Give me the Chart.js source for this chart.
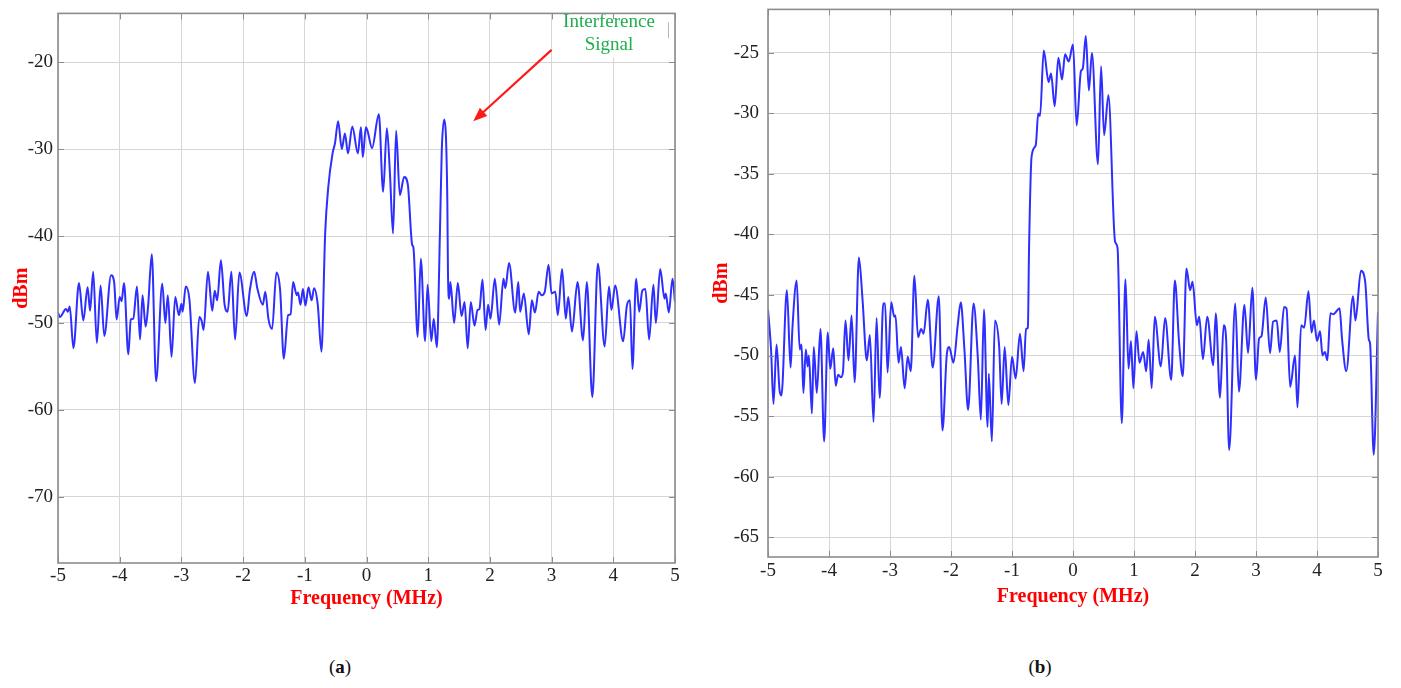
<!DOCTYPE html>
<html>
<head>
<meta charset="utf-8">
<script src="https://cdn.jsdelivr.net/npm/chart.js@4.4.1/dist/chart.umd.min.js"></script>
<style>
  body{margin:0;background:#fff;width:1401px;height:688px;position:relative;overflow:hidden;font-family:'Liberation Serif','DejaVu Serif',serif;}
  canvas{position:absolute;}
  #chartA{left:0;top:-3px;}
  #chartB{left:700px;top:-11px;}
  .cap{position:absolute;top:656px;font-size:19px;transform:translateX(-50%);color:#111;}
</style>
</head>
<body>
<canvas id="chartA" width="700" height="616"></canvas>
<canvas id="chartB" width="700" height="620"></canvas>
<div class="cap" style="left:340px">(<b>a</b>)</div>
<div class="cap" style="left:1040px">(<b>b</b>)</div>

<script>
/* =====================
   DADOS
   ===================== */
const xTicks  = [-5, -4, -3, -2, -1, 0, 1, 2, 3, 4, 5];
const yTicksA = [-70, -60, -50, -40, -30, -20];
const yTicksB = [-65, -60, -55, -50, -45, -40, -35, -30, -25];

// (a) espectro com interferencia
const freqA = [-5.00,-4.97,-4.87,-4.84,-4.81,-4.75,-4.66,-4.59,-4.52,-4.48,-4.43,-4.37,-4.31,-4.25,-4.14,-4.09,-4.05,-4.00,-3.97,-3.93,
  -3.86,-3.82,-3.78,-3.72,-3.67,-3.63,-3.58,-3.54,-3.48,-3.41,-3.31,-3.26,-3.22,-3.16,-3.10,-3.04,-3.00,-2.98,-2.93,-2.87,
  -2.78,-2.71,-2.67,-2.64,-2.57,-2.50,-2.46,-2.42,-2.36,-2.30,-2.25,-2.19,-2.13,-2.06,-1.94,-1.89,-1.82,-1.77,-1.68,-1.64,
  -1.59,-1.53,-1.46,-1.40,-1.34,-1.27,-1.23,-1.19,-1.13,-1.11,-1.07,-1.03,-0.99,-0.94,-0.89,-0.85,-0.79,-0.73,-0.67,-0.62,
  -0.55,-0.51,-0.46,-0.40,-0.35,-0.30,-0.23,-0.14,-0.09,-0.06,-0.01,0.02,0.09,0.20,0.27,0.33,0.38,0.43,0.48,0.54,
  0.61,0.67,0.74,0.76,0.83,0.88,0.95,0.99,1.05,1.09,1.14,1.19,1.22,1.26,1.31,1.32,1.34,1.36,1.42,1.48,
  1.54,1.59,1.64,1.69,1.75,1.80,1.83,1.88,1.93,1.97,2.01,2.08,2.15,2.22,2.25,2.31,2.41,2.46,2.49,2.55,
  2.63,2.68,2.73,2.79,2.84,2.89,2.95,3.00,3.06,3.10,3.17,3.23,3.27,3.33,3.42,3.51,3.57,3.66,3.75,3.86,
  3.93,3.97,4.03,4.16,4.22,4.27,4.31,4.37,4.42,4.47,4.52,4.58,4.65,4.69,4.76,4.83,4.85,4.90,4.96,5.00];
const dbmA = [-48.8,-49.3,-48.4,-48.7,-48.1,-52.9,-45.4,-49.7,-45.9,-48.6,-44.1,-52.3,-45.7,-51.5,-44.5,-45.3,-49.6,-47.0,-47.5,-45.4,
  -53.6,-49.6,-49.5,-45.8,-51.9,-46.8,-50.4,-48.1,-42.1,-56.7,-45.5,-50.0,-46.8,-53.9,-47.0,-49.1,-47.8,-48.7,-45.8,-47.3,
  -56.9,-49.3,-49.8,-50.8,-44.1,-48.6,-46.3,-47.4,-42.8,-47.9,-48.7,-44.1,-51.9,-44.2,-49.2,-46.2,-44.1,-46.0,-47.9,-46.4,
  -49.5,-50.7,-44.2,-46.2,-54.1,-49.1,-49.0,-45.3,-46.8,-46.5,-47.9,-46.1,-48.0,-45.9,-47.4,-46.0,-47.9,-53.3,-39.7,-34.4,
  -30.5,-29.3,-26.8,-30.0,-28.2,-30.5,-27.4,-30.5,-27.5,-30.9,-27.5,-28.0,-29.9,-26.0,-34.9,-27.6,-32.8,-39.7,-27.9,-35.3,
  -33.2,-34.1,-41.0,-41.3,-51.6,-42.6,-52.1,-45.6,-52.1,-49.5,-52.8,-39.7,-30.1,-26.6,-35.9,-44.0,-47.2,-45.3,-50.0,-45.4,
  -49.2,-47.6,-52.9,-47.6,-50.3,-48.5,-48.4,-45.0,-50.8,-47.9,-49.5,-44.9,-50.2,-44.9,-46.0,-43.1,-48.8,-45.3,-48.7,-46.6,
  -51.3,-47.4,-48.8,-46.4,-46.8,-46.4,-43.3,-46.6,-46.4,-49.1,-43.8,-49.5,-47.0,-51.0,-45.3,-52.0,-45.3,-58.5,-43.2,-52.7,
  -45.8,-48.5,-45.7,-52.1,-48.0,-47.4,-55.3,-44.9,-48.7,-46.3,-46.1,-51.9,-45.6,-50.0,-43.8,-47.2,-46.6,-48.8,-44.9,-47.6];

// (b) espectro sem interferencia
const freqB = [-5.00,-4.95,-4.91,-4.86,-4.81,-4.78,-4.69,-4.63,-4.60,-4.53,-4.48,-4.45,-4.42,-4.38,-4.35,-4.33,-4.28,-4.25,-4.20,-4.14,
  -4.08,-4.02,-3.98,-3.93,-3.89,-3.85,-3.80,-3.77,-3.73,-3.68,-3.63,-3.58,-3.51,-3.45,-3.38,-3.33,-3.27,-3.22,-3.17,-3.11,
  -3.08,-3.04,-2.98,-2.93,-2.91,-2.86,-2.82,-2.76,-2.71,-2.66,-2.60,-2.54,-2.49,-2.45,-2.38,-2.30,-2.20,-2.14,-2.07,-2.03,
  -1.96,-1.89,-1.84,-1.78,-1.72,-1.63,-1.56,-1.51,-1.46,-1.40,-1.38,-1.33,-1.28,-1.21,-1.17,-1.12,-1.06,-1.00,-0.94,-0.87,
  -0.81,-0.77,-0.74,-0.72,-0.68,-0.61,-0.57,-0.54,-0.48,-0.40,-0.36,-0.30,-0.24,-0.18,-0.13,-0.07,0.00,0.06,0.13,0.16,
  0.21,0.26,0.31,0.41,0.46,0.51,0.58,0.69,0.73,0.80,0.86,0.91,0.95,0.99,1.04,1.09,1.15,1.20,1.24,1.29,
  1.34,1.44,1.51,1.61,1.67,1.74,1.80,1.86,1.92,1.96,2.03,2.07,2.13,2.20,2.30,2.34,2.41,2.47,2.51,2.56,
  2.66,2.72,2.81,2.87,2.94,3.00,3.05,3.09,3.16,3.23,3.28,3.34,3.39,3.46,3.50,3.56,3.64,3.68,3.74,3.79,
  3.86,3.91,3.95,4.00,4.05,4.09,4.13,4.17,4.22,4.27,4.31,4.37,4.41,4.48,4.59,4.63,4.72,4.79,4.85,4.87,
  4.93,5.00];
const dbmB = [-46.2,-49.5,-54.0,-49.1,-52.9,-53.3,-44.6,-51.0,-47.8,-43.8,-49.5,-49.1,-53.1,-49.5,-50.9,-50.0,-54.8,-49.3,-53.1,-47.8,
  -57.1,-48.1,-51.1,-49.4,-52.5,-51.6,-51.8,-51.3,-47.1,-50.4,-46.7,-52.2,-41.9,-45.4,-50.4,-48.3,-55.5,-46.9,-53.5,-45.7,
  -45.7,-51.4,-45.6,-46.8,-46.7,-50.6,-49.3,-52.7,-50.1,-51.3,-43.4,-48.5,-47.8,-48.2,-45.4,-51.0,-45.1,-56.2,-50.0,-49.3,
  -50.6,-47.5,-45.6,-49.5,-54.5,-45.7,-50.2,-55.3,-46.2,-55.9,-51.5,-57.1,-47.1,-49.3,-54.0,-49.3,-54.1,-50.1,-51.9,-48.2,
  -51.3,-47.8,-47.7,-41.0,-33.6,-32.6,-30.0,-30.2,-24.8,-27.4,-26.7,-29.4,-25.4,-27.2,-25.1,-25.7,-24.3,-31.0,-26.5,-26.3,
  -23.6,-28.1,-25.0,-34.2,-26.1,-31.8,-28.5,-40.6,-41.1,-55.6,-43.7,-51.1,-48.8,-52.7,-48.0,-50.6,-49.7,-51.3,-48.7,-52.7,
  -46.8,-50.9,-46.9,-52.0,-43.8,-49.0,-51.7,-42.8,-44.6,-43.9,-47.5,-46.8,-50.3,-46.8,-50.8,-46.5,-53.5,-47.5,-48.6,-57.8,
  -45.7,-53.0,-45.8,-49.8,-44.4,-52.0,-48.6,-48.4,-45.2,-49.8,-47.2,-47.1,-49.7,-46.0,-46.1,-52.6,-50.0,-54.3,-47.5,-47.7,
  -44.7,-48.1,-47.1,-48.8,-48.0,-50.0,-49.7,-50.4,-46.5,-46.6,-46.4,-46.1,-48.6,-51.3,-45.1,-47.1,-43.0,-43.9,-48.7,-49.0,
  -58.2,-46.4];

/* === ESTILO === */
const SERIF = "'Liberation Serif', 'DejaVu Serif', serif";
const LINE_BLUE = '#2e2eff';
const GRID_GRAY = '#d6d6d6';
const FRAME_GRAY = '#8c8c8c';
const TITLE_RED = '#ff0000';

/* === ANOTACAO "Interference Signal" (grafico a) === */
const noteText  = ['Interference', 'Signal'];
const noteTextY = [-15.4, -18.0];
const noteTextX = 3.93;
const arrowFrom = [3.0, -18.6];
const arrowTo   = [1.73, -26.8];

// caixa branca por tras do texto (tapa a grelha), desenhada antes da moldura
const noteBoxPlugin = {
  id: 'noteBox',
  afterDatasetsDraw(chart){
    const {ctx, chartArea: a, scales: {x, y}} = chart;
    const cx = x.getPixelForValue(noteTextX);
    ctx.save();
    ctx.fillStyle = '#fff';
    ctx.fillRect(cx - 55, a.top + 1, 113, y.getPixelForValue(noteTextY[1]) + 12 - a.top);
    ctx.strokeStyle = '#b5b5b5';
    ctx.lineWidth = 1;
    ctx.beginPath();
    ctx.moveTo(cx + 59.5, a.top + 9);
    ctx.lineTo(cx + 59.5, a.top + 25);
    ctx.stroke();
    ctx.restore();
  }
};

/* === MOLDURA + TICKS PARA DENTRO (estilo MATLAB) === */
const framePlugin = {
  id: 'frame',
  afterDraw(chart){
    const {ctx, chartArea: a, scales: {x, y}} = chart;
    const seg = (x1, y1, x2, y2) => { ctx.beginPath(); ctx.moveTo(x1, y1); ctx.lineTo(x2, y2); ctx.stroke(); };
    ctx.save();
    ctx.strokeStyle = FRAME_GRAY;
    ctx.lineWidth = 1;
    x.ticks.forEach(t => {
      const px = Math.round(x.getPixelForValue(t.value)) + 0.5;
      seg(px, a.top, px, a.top + 6);
      seg(px, a.bottom, px, a.bottom - 6);
    });
    y.ticks.forEach(t => {
      const py = Math.round(y.getPixelForValue(t.value)) + 0.5;
      seg(a.left, py, a.left + 6, py);
      seg(a.right, py, a.right - 6, py);
    });
    ctx.lineWidth = 1.6;
    ctx.strokeRect(a.left, a.top, a.right - a.left, a.bottom - a.top);
    ctx.restore();
  }
};

const notePlugin = {
  id: 'note',
  afterDraw(chart){
    const {ctx, scales: {x, y}} = chart;
    ctx.save();
    ctx.fillStyle = '#1fae4d';
    ctx.font = '19px ' + SERIF;
    ctx.textAlign = 'center';
    ctx.textBaseline = 'middle';
    noteText.forEach((t, i) => ctx.fillText(t, x.getPixelForValue(noteTextX), y.getPixelForValue(noteTextY[i])));

    const x1 = x.getPixelForValue(arrowFrom[0]), y1 = y.getPixelForValue(arrowFrom[1]);
    const x2 = x.getPixelForValue(arrowTo[0]),   y2 = y.getPixelForValue(arrowTo[1]);
    const ang = Math.atan2(y2 - y1, x2 - x1);
    const head = 14, half = 5.5;
    ctx.strokeStyle = '#ff1a1a';
    ctx.fillStyle = '#ff1a1a';
    ctx.lineWidth = 2.2;
    ctx.beginPath();
    ctx.moveTo(x1, y1);
    ctx.lineTo(x2 - Math.cos(ang) * head * 0.8, y2 - Math.sin(ang) * head * 0.8);
    ctx.stroke();
    ctx.beginPath();
    ctx.moveTo(x2, y2);
    ctx.lineTo(x2 - Math.cos(ang) * head - Math.sin(ang) * half, y2 - Math.sin(ang) * head + Math.cos(ang) * half);
    ctx.lineTo(x2 - Math.cos(ang) * head + Math.sin(ang) * half, y2 - Math.sin(ang) * head - Math.cos(ang) * half);
    ctx.closePath();
    ctx.fill();
    ctx.restore();
  }
};

/* === CONFIGURACAO DOS GRAFICOS === */
// nota: o topo da area do grafico vem do padding das labels do eixo y,
// por isso o canvas e' deslocado para cima no CSS
function makeChart(id, freq, dbm, yTicks, cfg, extraPlugins){
  const ctx = document.getElementById(id).getContext('2d');
  return new Chart(ctx, {
    type: 'line',
    data: {
      datasets: [{
        data: freq.map((f, i) => ({x: f, y: dbm[i]})),
        borderColor: LINE_BLUE,
        borderWidth: 2,
        pointRadius: 0,
        cubicInterpolationMode: 'monotone',
        fill: false
      }]
    },
    options: {
      responsive: false,
      animation: false,
      layout: { padding: { top: 0, right: cfg.padRight, left: 0, bottom: 0 } },
      plugins: { legend: { display: false }, tooltip: { enabled: false } },
      scales: {
        x: {
          type: 'linear',
          min: -5, max: 5,
          afterBuildTicks: s => { s.ticks = xTicks.map(v => ({value: v})); },
          afterFit: s => { s.height = cfg.xHeight; },
          grid: { color: GRID_GRAY, drawTicks: false },
          border: { display: false },
          ticks: { color: '#222', font: { family: SERIF, size: 19 }, padding: cfg.xPad, maxRotation: 0,
                   callback: v => String(v) },
          title: { display: true, text: 'Frequency (MHz)', color: TITLE_RED,
                   font: { family: SERIF, size: 20, weight: 'bold' }, padding: { top: 0, bottom: cfg.xTitlePad } }
        },
        y: {
          min: cfg.yMin, max: cfg.yMax,
          afterBuildTicks: s => { s.ticks = yTicks.map(v => ({value: v})); },
          afterFit: s => { s.width = cfg.yWidth; },
          grid: { color: GRID_GRAY, drawTicks: false },
          border: { display: false },
          ticks: { color: '#222', font: { family: SERIF, size: 19 }, padding: cfg.yPad,
                   callback: v => String(v) },
          title: { display: true, text: 'dBm', color: TITLE_RED,
                   font: { family: SERIF, size: 20, weight: 'bold' }, padding: { top: 10, bottom: 0 } }
        }
      }
    },
    plugins: (extraPlugins || []).concat([framePlugin])
  });
}

makeChart('chartA', freqA, dbmA, yTicksA,
  { padRight: 25, xHeight: 50, yWidth: 58, xPad: 2, yPad: 5, xTitlePad: 2, yMin: -77.6, yMax: -14.4 },
  [noteBoxPlugin, notePlugin]);

makeChart('chartB', freqB, dbmB, yTicksB,
  { padRight: 22, xHeight: 52, yWidth: 68, xPad: 3, yPad: 9, xTitlePad: 0, yMin: -66.65, yMax: -21.4 });
</script>
</body>
</html>
